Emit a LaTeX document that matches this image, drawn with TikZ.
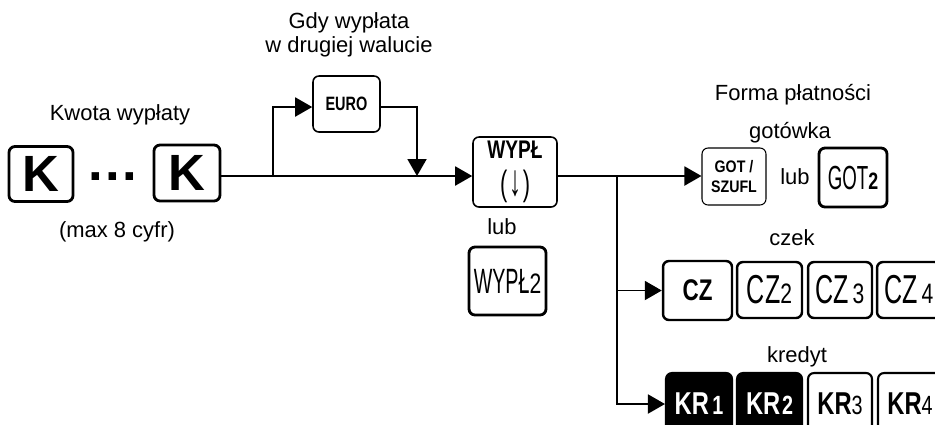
\documentclass[tikz,border=0pt]{standalone}
\usepackage{fontspec}
\setmainfont{Liberation Sans}
\newfontfamily\fcb[FakeStretch=0.75]{Liberation Sans}
\newfontfamily\fcbw[FakeStretch=0.85]{Liberation Sans}
\newfontfamily\fcr[FakeStretch=0.62]{Liberation Sans}
\newfontfamily\fcrr[FakeStretch=0.56]{Liberation Sans}
\usetikzlibrary{arrows.meta}
\tikzset{
  lbl/.style={inner sep=1pt, font=\fontsize{12.5}{14}\selectfont},
  keybox/.style={draw, rounded corners=0.12cm, inner sep=0pt, align=center},
  conn/.style={line width=1.1pt},
  arr/.style={-{Triangle[length=0.34cm,width=0.38cm]}},
  czfont/.style={font=\fcr\fontsize{23}{23}\selectfont},
  krfont/.style={font=\fcb\bfseries\fontsize{18}{18}\selectfont},
}
\newcommand\czdig[1]{{\fcb\fontsize{16}{16}\selectfont #1}}
\newcommand\krdig[1]{{\fontsize{15}{15}\selectfont #1}}
\begin{document}
\begin{tikzpicture}[x=0.02cm,y=-0.02cm]
\useasboundingbox (0,0) rectangle (935,424);
\clip (0,0) rectangle (935,424);
% labels
\node[lbl] (kwota) at (120,115) {Kwota wypłaty};
\node[lbl] (max) at (117,232) {(max 8 cyfr)};
\node[lbl, align=center] (gdy) at (349,35) {Gdy wypłata\\w drugiej walucie};
\node[lbl] (forma) at (793,95) {Forma płatności};
\node[lbl] (gotowka) at (790,133) {gotówka};
\node[lbl] (lub1) at (795,177) {lub};
\node[lbl] (lub2) at (502,227) {lub};
\node[lbl] (czek) at (792,238) {czek};
\node[lbl] (kredyt) at (797,357) {kredyt};
% keys
\node[keybox, minimum width=1.28cm, minimum height=1.10cm, line width=1.6pt, font=\bfseries\fontsize{29}{29}\selectfont] (K1) at (41,174) {K};
\node[anchor=base, inner sep=0pt, font=\bfseries\fontsize{30}{30}\selectfont] (dots) at (113,180) {.\kern0.05cm.\kern0.05cm.};
\node[keybox, minimum width=1.32cm, minimum height=1.12cm, line width=1.6pt, font=\bfseries\fontsize{29}{29}\selectfont] (K2) at (187,173) {K};
\node[keybox, minimum width=1.34cm, minimum height=1.12cm, line width=0.9pt, font=\fcb\bfseries\fontsize{11}{12}\selectfont] (EURO) at (346.5,104) {EURO};
\node[keybox, minimum width=1.68cm, minimum height=1.40cm, line width=0.9pt, font=\fcb\bfseries\fontsize{14.5}{19}\selectfont] (WYPL) at (515,172) {WYPŁ\\[2pt]{\fcr\mdseries\fontsize{20}{19}\selectfont(\kern1pt\scalebox{1.1}[1.25]{↓}\kern1pt)}};
\node[keybox, minimum width=1.54cm, minimum height=1.36cm, line width=1.6pt, font=\fcrr\fontsize{20}{20}\selectfont] (WYPL2) at (507.5,281) {WYPŁ\czdig{2}};
\node[keybox, minimum width=1.28cm, minimum height=1.14cm, line width=0.6pt, font=\fcbw\bfseries\fontsize{9.5}{11}\selectfont] (GOT) at (734,176.5) {GOT /\\SZUFL};
\node[keybox, minimum width=1.36cm, minimum height=1.18cm, line width=1.6pt, font=\fcrr\fontsize{19}{19}\selectfont] (GOT2) at (853,177.5) {GOT{\fcb\bfseries\fontsize{13.5}{13.5}\selectfont 2}};
\node[keybox, minimum width=1.38cm, minimum height=1.18cm, line width=1.4pt, font=\fcb\bfseries\fontsize{17}{17}\selectfont] (CZ) at (697.5,290.5) {CZ};
\node[keybox, czfont, minimum width=1.30cm, minimum height=1.12cm, line width=1.4pt] (CZ2) at (769.5,290) {CZ\czdig{2}};
\node[keybox, czfont, minimum width=1.28cm, minimum height=1.12cm, line width=1.4pt] (CZ3) at (840,290) {CZ\kern2pt\czdig{3}};
\node[keybox, czfont, minimum width=1.28cm, minimum height=1.12cm, line width=1.4pt] (CZ4) at (909,290) {CZ\kern2pt\czdig{4}};
\node[keybox, krfont, fill=black, text=white, minimum width=1.32cm, minimum height=1.24cm, line width=1.2pt] (KR1) at (699,404) {KR\kern2pt\krdig{1}};
\node[keybox, krfont, fill=black, text=white, minimum width=1.30cm, minimum height=1.24cm, line width=1.2pt] (KR2) at (769.5,404) {KR\kern1pt\krdig{2}};
\node[keybox, krfont, minimum width=1.28cm, minimum height=1.24cm, line width=1.2pt] (KR3) at (840,404) {KR\krdig{\mdseries 3}};
\node[keybox, krfont, minimum width=1.28cm, minimum height=1.24cm, line width=1.2pt] (KR4) at (910,404) {KR\krdig{\mdseries 4}};
% connectors
\coordinate (j1) at (273,176);
\coordinate (eu) at (417,107);
\coordinate (j2) at (417,176);
\coordinate (j3) at (617,176);
\draw[conn,arr] (K2.east |- j1) -- (WYPL.west |- j1);
\draw[conn,arr] (j1) |- (EURO.west |- eu);
\draw[conn,arr] (EURO.east |- eu) -| (j2);
\draw[conn,arr] (WYPL.east |- j3) -- (GOT.west |- j3);
\draw[conn,arr] (j3) |- (CZ.west);
\draw[conn,arr] (j3) |- (KR1.west);
\end{tikzpicture}
\end{document}
